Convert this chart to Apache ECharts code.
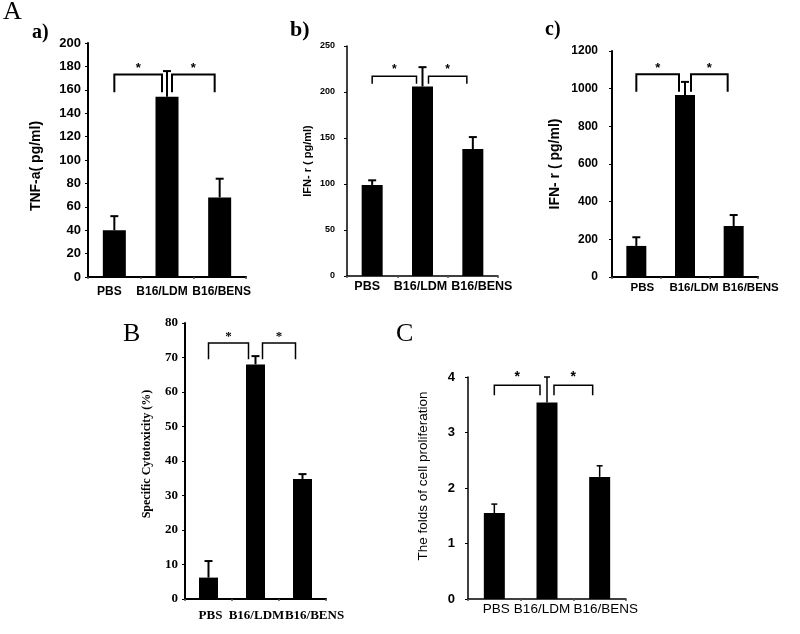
<!DOCTYPE html>
<html>
<head>
<meta charset="utf-8">
<script src="https://cdn.jsdelivr.net/npm/echarts@6/dist/echarts.min.js"></script>
<style>html,body{margin:0;padding:0;background:#fff}#chart{width:800px;height:634px}</style>
</head>
<body>
<div id="chart"></div>
<script>
// ---- data ----
const categories = ['PBS', 'B16/LDM', 'B16/BENS'];

const tnfValues = [40, 154, 68];
const tnfErrors = [12, 22, 16];
const tnfTicks = [0, 20, 40, 60, 80, 100, 120, 140, 160, 180, 200];
const tnfBrackets = [[0, 1, 173, 158], [1, 2, 173, 158]];

const ifnBValues = [99, 206, 138];
const ifnBErrors = [5, 21, 13];
const ifnBTicks = [0, 50, 100, 150, 200, 250];
const ifnBBrackets = [[0, 1, 217, 209], [1, 2, 217, 209]];

const ifnCValues = [165, 966, 271];
const ifnCErrors = [46, 70, 58];
const ifnCTicks = [0, 200, 400, 600, 800, 1000, 1200];
const ifnCBrackets = [[0, 1, 1076, 984], [1, 2, 1076, 984]];

const cytoValues = [6.2, 68, 34.8];
const cytoErrors = [4.8, 2.4, 1.4];
const cytoTicks = [0, 10, 20, 30, 40, 50, 60, 70, 80];
const cytoBrackets = [[0, 1, 74.2, 69.5], [1, 2, 74.2, 69.5]];

const prolifValues = [1.55, 3.54, 2.2];
const prolifErrors = [0.16, 0.46, 0.2];
const prolifTicks = [0, 1, 2, 3, 4];
const prolifBrackets = [[0, 1, 3.85, 3.67], [1, 2, 3.85, 3.67]];

// ---- helpers ----
const SANS = '"Liberation Sans", Arial, sans-serif';
const SERIF = '"Liberation Serif", "Times New Roman", serif';

function errorRender(capHalf, lw) {
  return function (params, api) {
    const x = api.value(0), v = api.value(1), e = api.value(2);
    const p0 = api.coord([x, v]);
    const p1 = api.coord([x, v + e]);
    return {
      type: 'group',
      children: [
        { type: 'line', shape: { x1: p0[0], y1: p0[1], x2: p1[0], y2: p1[1] }, style: { stroke: '#000', lineWidth: lw } },
        { type: 'line', shape: { x1: p1[0] - capHalf, y1: p1[1], x2: p1[0] + capHalf, y2: p1[1] }, style: { stroke: '#000', lineWidth: lw } }
      ]
    };
  };
}

function bracketRender(inset, lw, starFont, starGap) {
  return function (params, api) {
    const a = api.value(0), b = api.value(1), top = api.value(2), bot = api.value(3);
    const pa = api.coord([a, top]);
    const pb = api.coord([b, top]);
    const yb = api.coord([a, bot])[1];
    const x1 = pa[0] + (a === 0 ? 0 : inset);
    const x2 = pb[0] - inset;
    const yt = pa[1];
    return {
      type: 'group',
      children: [
        { type: 'polyline', shape: { points: [[x1, yb], [x1, yt], [x2, yt], [x2, yb]] }, style: { stroke: '#000', lineWidth: lw, fill: null } },
        { type: 'text', x: (x1 + x2) / 2, y: yt - starGap, style: { text: '*', font: starFont, fill: '#000', textAlign: 'center', textVerticalAlign: 'middle' } }
      ]
    };
  };
}

// shift individual category labels sideways (px) using rich-text padding
function shiftedLabels(font, shifts) {
  const rich = {};
  shifts.forEach(function (s, k) {
    rich['s' + k] = Object.assign({ color: '#000', padding: s >= 0 ? [0, 0, 0, 2 * s] : [0, -2 * s, 0, 0] }, font);
  });
  return {
    formatter: function (value, index) { return '{s' + index + '|' + value + '}'; },
    rich: rich
  };
}

const panels = [
  { values: tnfValues, errors: tnfErrors, ticks: tnfTicks, brackets: tnfBrackets, name: 'TNF-a( pg/ml)',
    grid: { left: 88, top: 43, width: 158, height: 234 }, barWidth: 23,
    tickFont: { fontFamily: SANS, fontWeight: 'bold', fontSize: 13 }, tickMargin: 7,
    nameFont: { fontFamily: SANS, fontWeight: 'bold', fontSize: 14, padding: [0, 12, 0, 0] }, nameGap: 45,
    catFont: { fontFamily: SANS, fontWeight: 'bold', fontSize: 12 }, catMargin: 9, catShift: [-5, -5, 2],
    axisWidth: 2, cap: 4, errW: 2, inset: 5, brW: 2, star: 'bold 13px ' + SANS, starGap: 6 },
  { values: ifnBValues, errors: ifnBErrors, ticks: ifnBTicks, brackets: ifnBBrackets, name: 'IFN- r ( pg/ml)',
    grid: { left: 347, top: 46, width: 151, height: 230 }, barWidth: 21,
    tickFont: { fontFamily: SANS, fontWeight: 'bold', fontSize: 9 }, tickMargin: 12,
    nameFont: { fontFamily: SANS, fontWeight: 'bold', fontSize: 11 }, nameGap: 34,
    catFont: { fontFamily: SANS, fontWeight: 'bold', fontSize: 12.5 }, catMargin: 4, catShift: [-5, -2, 9],
    axisWidth: 1.5, cap: 4, errW: 2, inset: 6, brW: 1.5, star: 'bold 12px ' + SANS, starGap: 7 },
  { values: ifnCValues, errors: ifnCErrors, ticks: ifnCTicks, brackets: ifnCBrackets, name: 'IFN- r ( pg/ml)',
    grid: { left: 612, top: 51, width: 146, height: 226 }, barWidth: 20,
    tickFont: { fontFamily: SANS, fontWeight: 'bold', fontSize: 12 }, tickMargin: 14,
    nameFont: { fontFamily: SANS, fontWeight: 'bold', fontSize: 14 }, nameGap: 50,
    catFont: { fontFamily: SANS, fontWeight: 'bold', fontSize: 11.5 }, catMargin: 5, catShift: [6, 9, 17],
    axisWidth: 2, cap: 4, errW: 2, inset: 6, brW: 2, star: 'bold 13px ' + SANS, starGap: 6 },
  { values: cytoValues, errors: cytoErrors, ticks: cytoTicks, brackets: cytoBrackets, name: 'Specific Cytotoxicity (%)',
    grid: { left: 185, top: 323, width: 141, height: 276 }, barWidth: 19,
    tickFont: { fontFamily: SERIF, fontWeight: 'bold', fontSize: 13 }, tickMargin: 7,
    nameFont: { fontFamily: SERIF, fontWeight: 'bold', fontSize: 12, padding: [0, 0, 0, 14] }, nameGap: 32,
    catFont: { fontFamily: SERIF, fontWeight: 'bold', fontSize: 13 }, catMargin: 10, catShift: [2, 1, 12],
    axisWidth: 2, cap: 4, errW: 2, inset: 7, brW: 1.5, star: 'bold 13px ' + SERIF, starGap: 6 },
  { values: prolifValues, errors: prolifErrors, ticks: prolifTicks, brackets: prolifBrackets, name: 'The folds of cell proliferation',
    grid: { left: 468, top: 377, width: 158, height: 222 }, barWidth: 21,
    tickFont: { fontFamily: SANS, fontWeight: 'bold', fontSize: 13 }, tickMargin: 13,
    nameFont: { fontFamily: SANS, fontSize: 13.5, padding: [0, 0, 0, 24] }, nameGap: 38,
    catFont: { fontFamily: SANS, fontSize: 13.5 }, catMargin: 3, catShift: [2, -5, 6],
    axisWidth: 1.5, cap: 3, errW: 1.5, inset: 7, brW: 1.5, star: 'bold 14px ' + SANS, starGap: 8 }
];

const option = {
  backgroundColor: '#fff',
  animation: false,
  grid: [], xAxis: [], yAxis: [], series: [],
  graphic: [
    { type: 'text', x: 3, y: 12, style: { text: 'A', font: '26px ' + SERIF, fill: '#000', textVerticalAlign: 'middle' } },
    { type: 'text', x: 32, y: 33, style: { text: 'a)', font: 'bold 20px ' + SERIF, fill: '#000', textVerticalAlign: 'middle' } },
    { type: 'text', x: 290, y: 30, style: { text: 'b)', font: 'bold 22px ' + SERIF, fill: '#000', textVerticalAlign: 'middle' } },
    { type: 'text', x: 545, y: 30, style: { text: 'c)', font: 'bold 20px ' + SERIF, fill: '#000', textVerticalAlign: 'middle' } },
    { type: 'text', x: 123, y: 334, style: { text: 'B', font: '26px ' + SERIF, fill: '#000', textVerticalAlign: 'middle' } },
    { type: 'text', x: 396, y: 334, style: { text: 'C', font: '26px ' + SERIF, fill: '#000', textVerticalAlign: 'middle' } }
  ]
};

panels.forEach(function (p, i) {
  const t = p.ticks;
  option.grid.push(Object.assign({ containLabel: false }, p.grid));
  option.xAxis.push({
    type: 'category', gridIndex: i, data: categories,
    axisLine: { lineStyle: { color: '#000', width: p.axisWidth } },
    axisTick: { show: true, length: 2, lineStyle: { color: '#555', width: 1.5 } },
    axisLabel: Object.assign({ color: '#000', interval: 0, margin: p.catMargin }, p.catFont, shiftedLabels(p.catFont, p.catShift))
  });
  option.yAxis.push({
    type: 'value', gridIndex: i, min: t[0], max: t[t.length - 1], interval: t[1] - t[0],
    name: p.name, nameLocation: 'middle', nameGap: p.nameGap, nameRotate: 90,
    nameTextStyle: Object.assign({ color: '#000' }, p.nameFont),
    axisLine: { show: true, lineStyle: { color: '#000', width: p.axisWidth } },
    axisTick: { show: true, length: 3, lineStyle: { color: '#000', width: 1 } },
    splitLine: { show: false },
    axisLabel: Object.assign({ color: '#000', margin: p.tickMargin, formatter: function (v) { return String(v); } }, p.tickFont)
  });
  option.series.push({
    type: 'bar', xAxisIndex: i, yAxisIndex: i, data: p.values, barWidth: p.barWidth,
    itemStyle: { color: '#000' }, z: 2
  });
  option.series.push({
    type: 'custom', xAxisIndex: i, yAxisIndex: i, z: 3,
    data: p.values.map(function (v, k) { return [k, v, p.errors[k]]; }),
    encode: { x: 0, y: 1 },
    renderItem: errorRender(p.cap, p.errW)
  });
  option.series.push({
    type: 'custom', xAxisIndex: i, yAxisIndex: i, z: 3,
    data: p.brackets,
    encode: { x: 0, y: 2 },
    renderItem: bracketRender(p.inset, p.brW, p.star, p.starGap)
  });
});

const chart = echarts.init(document.getElementById('chart'), null, { renderer: 'canvas' });
chart.setOption(option);
</script>
</body>
</html>
